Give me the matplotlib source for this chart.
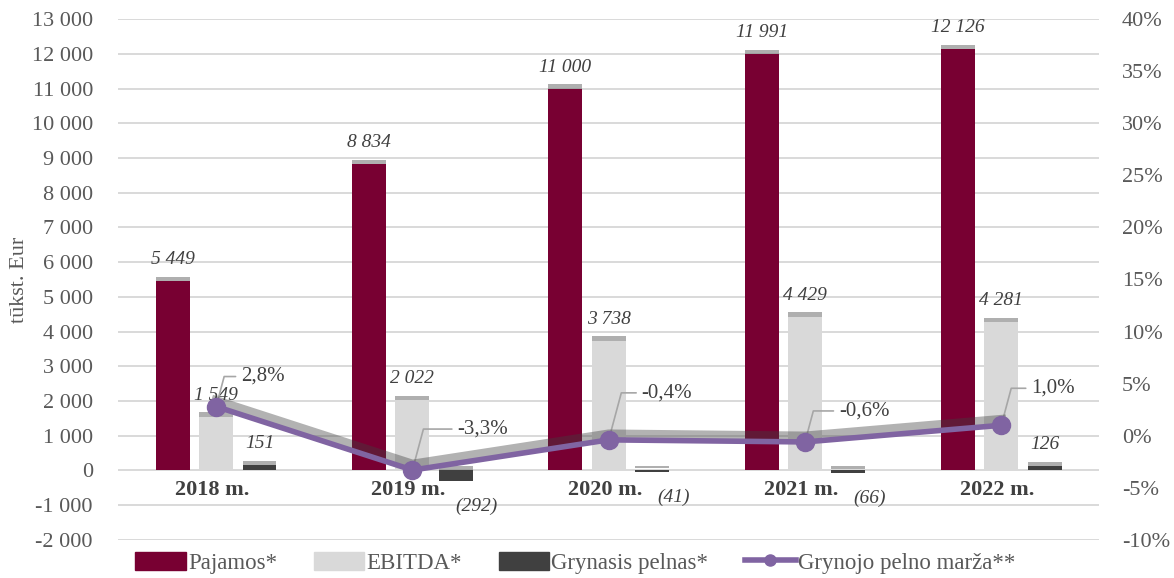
import matplotlib
matplotlib.use("Agg")
import matplotlib.pyplot as plt
import matplotlib.patheffects as pe
from matplotlib.lines import Line2D
from matplotlib.patches import Patch
import numpy as np

plt.rcParams['font.family'] = ['Liberation Serif', 'DejaVu Serif']

years = ["2018 m.", "2019 m.", "2020 m.", "2021 m.", "2022 m."]
pajamos = [5449, 8834, 11000, 11991, 12126]
ebitda = [1549, 2022, 3738, 4429, 4281]
grynasis = [151, -292, -41, -66, 126]
marza = [2.8, -3.3, -0.4, -0.6, 1.0]
marza_lbl = ["2,8%", "-3,3%", "-0,4%", "-0,6%", "1,0%"]

C_PAJ = "#780032"
C_EBT = "#d9d9d9"
C_GRY = "#404040"
C_LINE = "#8064a2"
C_TXT = "#595959"


def fmt_num(v):
    s = f"{abs(v):,}".replace(",", " ")
    return s if v >= 0 else f"({s})"


fig = plt.figure(figsize=(11.74, 5.78), dpi=100)
ax = fig.add_axes([0.1005, 0.066, 0.836, 0.901])
ax2 = ax.twinx()

x = np.arange(len(years))
w, off = 0.173, 0.221
shadow = [pe.SimplePatchShadow(offset=(0, 3), shadow_rgbFace="#7a7a7a", alpha=0.6), pe.Normal()]
for vals, dx, col in [(pajamos, -off, C_PAJ), (ebitda, 0, C_EBT), (grynasis, off, C_GRY)]:
    bars = ax.bar(x + dx, vals, w, color=col, zorder=3)
    for b, v in zip(bars, vals):
        b.set_path_effects(shadow)
        if v >= 0:
            ax.annotate(fmt_num(v), (b.get_x() + b.get_width() / 2, v), xytext=(0, 13),
                        textcoords="offset pixels", ha="center", va="bottom",
                        fontsize=14, style="italic", color="#404040", zorder=6)
        else:
            ax.annotate(fmt_num(v), (b.get_x() + b.get_width() / 2, v), xytext=(21, -26),
                        textcoords="offset pixels", ha="center", va="center",
                        fontsize=14, style="italic", color="#404040", zorder=6)

# category labels sit just under the zero line
for xi, lab in zip(x, years):
    ax.annotate(lab, (xi, 0), xytext=(-4, -20), textcoords="offset pixels", ha="center",
                va="center", fontsize=16, fontweight="bold", color="#404040")

ax.set_ylim(-2000, 13000)
ax.set_xlim(-0.5, 4.5)
ax.set_yticks(range(-2000, 13001, 1000))
ax.set_yticklabels([f"{t:,}".replace(",", " ") for t in range(-2000, 13001, 1000)])
ax.set_xticks([])
ax.grid(axis="y", color="#d9d9d9", linewidth=1.4, zorder=0)
ax.set_axisbelow(True)
ax.set_ylabel("tūkst. Eur", fontsize=16, color=C_TXT, labelpad=2)
ax.tick_params(axis="y", length=0, labelsize=16, labelcolor=C_TXT, pad=18)

# line with a soft shadow, markers drawn on top without it
ax2.plot(x, marza, color=C_LINE, linewidth=4, zorder=5,
         path_effects=[pe.SimpleLineShadow(offset=(0, 4), shadow_color="#404040", alpha=0.4,
                                           linewidth=7),
                       pe.Normal()])
ax2.plot(x, marza, linestyle="none", marker="o", markersize=13, color=C_LINE, zorder=6)
ax2.set_ylim(-10, 40)
ax2.set_yticks(range(-10, 41, 5))
ax2.set_yticklabels([f"{t}%" for t in range(-10, 41, 5)])
ax2.tick_params(axis="y", length=0, labelsize=16, labelcolor=C_TXT, pad=16)

lbl_off = [(25, 30), (45, 41), (33, 47), (34, 31), (30, 37)]
for xi, v, lab, (dx, dy) in zip(x, marza, marza_lbl, lbl_off):
    ax2.annotate(lab, (xi, v), xytext=(dx, dy), textcoords="offset pixels", ha="left",
                 va="center", fontsize=15, color="#404040",
                 arrowprops=dict(arrowstyle="-", color="#a6a6a6", lw=1.2, shrinkA=2, shrinkB=0,
                                 connectionstyle="angle,angleA=180,angleB=75,rad=0"))

for a in (ax, ax2):
    for s in a.spines.values():
        s.set_visible(False)

handles = [Patch(color=C_PAJ), Patch(color=C_EBT), Patch(color=C_GRY),
           Line2D([], [], color=C_LINE, lw=4, marker="o", markersize=8)]
labels = ["Pajamos*", "EBITDA*", "Grynasis pelnas*", "Grynojo pelno marža**"]
fig.legend(handles, labels, loc="center", bbox_to_anchor=(0.49, 0.026), ncol=4, frameon=False,
           fontsize=16.5, handlelength=2.2, handleheight=0.8, columnspacing=1.6, handletextpad=0.1,
           labelcolor=C_TXT)

fig.savefig("out.png", dpi=100)
